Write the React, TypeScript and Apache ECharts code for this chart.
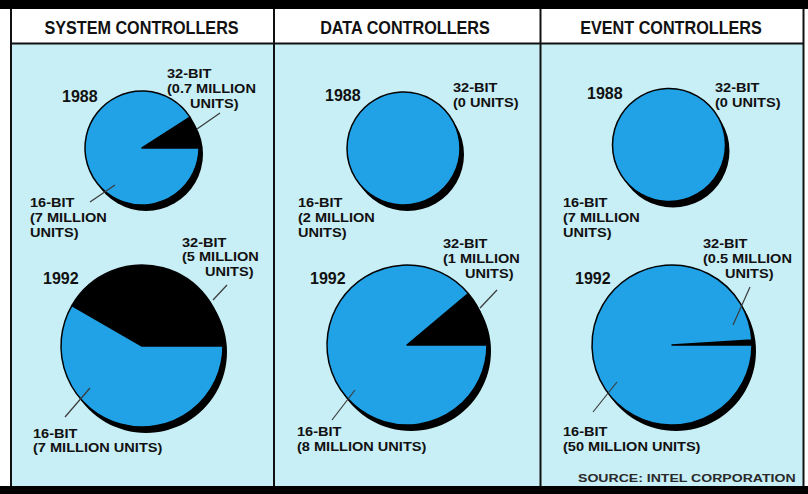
import React, { useEffect, useRef } from "react";
import * as echarts from "echarts";

// ---------- data ----------
const PANEL_TITLES = ["SYSTEM CONTROLLERS", "DATA CONTROLLERS", "EVENT CONTROLLERS"];
const YEARS = ["1988", "1992"];
const BIT_TYPES = ["32-BIT", "16-BIT"];
// million units
const UNITS_32_1988 = [0.7, 0, 0];
const UNITS_16_1988 = [7, 2, 7];
const UNITS_32_1992 = [5, 1, 0.5];
const UNITS_16_1992 = [7, 8, 50];
const SOURCE_TEXT = "SOURCE: INTEL CORPORATION";

// ---------- style ----------
const BLUE = "#22a2e6";
const CYAN = "#c8eef6";
const INK = "#111111";
const FONT = "'Liberation Sans', Arial, Helvetica, sans-serif";
const LABEL_SIZE = 13;
const LABEL_SCALE = 1.12;

// ---------- layout (positions only) ----------
type PieBox = [number, number, number];
type Lead = [number, number, number, number];
interface PanelLayout {
  titleX: number;
  pie: [PieBox, PieBox];
  year: [[number, number], [number, number]];
  l32: { x: number; y: number; x3: number; pitch: number }[];
  l16: { x: number; y: number; pitch: number }[];
  lead32: (Lead | null)[];
  lead16: (Lead | null)[];
}

const LAYOUT: PanelLayout[] = [
  {
    titleX: 141.5,
    pie: [[142, 148, 57], [142, 346, 81]],
    year: [[62, 96], [43, 278]],
    l32: [{ x: 167, y: 74, x3: 190, pitch: 15 }, { x: 182, y: 242.5, x3: 205, pitch: 14.7 }],
    l16: [{ x: 30, y: 202.5, pitch: 15 }, { x: 33, y: 433.5, pitch: 14.6 }],
    lead32: [[197, 129, 220, 113], [213, 300, 227, 285]],
    lead16: [[90, 202, 115, 185], [65, 417, 90, 388]],
  },
  {
    titleX: 405,
    pie: [[403.5, 148.5, 56.5], [407, 345, 80]],
    year: [[325, 95], [310, 278]],
    l32: [{ x: 453, y: 87.5, x3: 453, pitch: 15 }, { x: 443, y: 244, x3: 465, pitch: 14.7 }],
    l16: [{ x: 298, y: 202.5, pitch: 15 }, { x: 297, y: 432, pitch: 14.6 }],
    lead32: [null, [480, 308, 497, 290]],
    lead16: [null, [332, 420, 355, 390]],
  },
  {
    titleX: 671,
    pie: [[669, 145, 56.5], [672, 345, 80]],
    year: [[587, 93], [575, 278]],
    l32: [{ x: 715, y: 87.5, x3: 715, pitch: 15 }, { x: 703, y: 244, x3: 725, pitch: 14.7 }],
    l16: [{ x: 563, y: 202.5, pitch: 15 }, { x: 563, y: 432, pitch: 14.6 }],
    lead32: [null, [733, 325, 750, 287]],
    lead16: [null, [593, 412, 617, 382]],
  },
];

const SHADOW_DX = 4;
const SHADOW_DY = 6;

function unitsText(v: number): string {
  return v === 0 ? "(0 UNITS)" : `(${v} MILLION UNITS)`;
}
function splitUnits(t: string, wrap: boolean): string[] {
  if (!wrap || t.indexOf("MILLION") < 0) return [t];
  const i = t.indexOf(" UNITS)");
  return [t.slice(0, i), t.slice(i + 1)];
}

function txt(text: string, x: number, y: number, size: number, opts: any = {}) {
  const align = opts.align || "left";
  return {
    type: "text",
    x,
    y,
    z: 20,
    scaleX: opts.scaleX || 1,
    silent: true,
    style: {
      text,
      x: 0,
      y: 0,
      fill: opts.fill || INK,
      fontSize: size,
      fontWeight: opts.weight || "bold",
      fontFamily: FONT,
      align,
      textAlign: align,
      verticalAlign: "middle",
      textVerticalAlign: "middle",
    },
  };
}

function lead(l: Lead) {
  return {
    type: "line",
    z: 20,
    silent: true,
    shape: { x1: l[0], y1: l[1], x2: l[2], y2: l[3] },
    style: { stroke: "#3a3a3a", lineWidth: 1.2 },
  };
}

function buildOption() {
  const series: any[] = [];
  const graphics: any[] = [];

  // frame
  graphics.push({ type: "rect", z: -5, silent: true, shape: { x: 0, y: 0, width: 808, height: 494 }, style: { fill: "#ffffff" } });
  graphics.push({ type: "rect", z: -4, silent: true, shape: { x: 10, y: 44, width: 793, height: 442 }, style: { fill: CYAN } });
  graphics.push({ type: "rect", z: -3, silent: true, shape: { x: 0, y: 0, width: 808, height: 9 }, style: { fill: "#000" } });
  graphics.push({ type: "rect", z: -3, silent: true, shape: { x: 0, y: 486, width: 808, height: 8 }, style: { fill: "#000" } });
  graphics.push({ type: "line", z: -3, silent: true, shape: { x1: 10, y1: 43.5, x2: 804, y2: 43.5 }, style: { stroke: "#111", lineWidth: 2 } });
  [11, 274, 540.5, 803.5].forEach((x) => {
    graphics.push({ type: "line", z: -3, silent: true, shape: { x1: x, y1: 9, x2: x, y2: 486 }, style: { stroke: "#111", lineWidth: 2 } });
  });

  PANEL_TITLES.forEach((title, p) => {
    const L = LAYOUT[p];
    graphics.push(txt(title, L.titleX, 28.5, 18, { align: "center", scaleX: 0.9 }));

    const v32 = [UNITS_32_1988[p], UNITS_32_1992[p]];
    const v16 = [UNITS_16_1988[p], UNITS_16_1992[p]];

    YEARS.forEach((year, k) => {
      const [cx, cy, r] = L.pie[k];
      // drop shadow disc behind the pie (decoration)
      graphics.push({
        type: "circle",
        z: -2,
        silent: true,
        shape: { cx: cx + SHADOW_DX, cy: cy + SHADOW_DY, r },
        style: { fill: "#000" },
      });
      series.push({
        type: "pie",
        name: `${title} ${year}`,
        silent: true,
        animation: false,
        z: 3,
        center: [cx, cy],
        radius: [0, r],
        startAngle: 0,
        clockwise: false,
        label: { show: false },
        labelLine: { show: false },
        itemStyle: { borderColor: "#000", borderWidth: 1.5 },
        data: [
          { name: BIT_TYPES[0], value: v32[k], itemStyle: { color: "#000", borderWidth: v32[k] === 0 ? 0 : 1.5 } },
          { name: BIT_TYPES[1], value: v16[k], itemStyle: { color: BLUE } },
        ],
      });

      graphics.push(txt(year, L.year[k][0], L.year[k][1], 16));

      // 32-bit label
      const a = L.l32[k];
      const lines32 = [BIT_TYPES[0], ...splitUnits(unitsText(v32[k]), true)];
      lines32.forEach((s, i) => {
        graphics.push(txt(s, i === 2 ? a.x3 : a.x, a.y + i * a.pitch, LABEL_SIZE, { scaleX: LABEL_SCALE }));
      });
      // 16-bit label
      const b = L.l16[k];
      const lines16 = [BIT_TYPES[1], ...splitUnits(unitsText(v16[k]), k === 0)];
      lines16.forEach((s, i) => {
        graphics.push(txt(s, b.x, b.y + i * b.pitch, LABEL_SIZE, { scaleX: LABEL_SCALE }));
      });

      const l32 = L.lead32[k];
      if (l32) graphics.push(lead(l32));
      const l16 = L.lead16[k];
      if (l16) graphics.push(lead(l16));
    });
  });

  graphics.push(txt(SOURCE_TEXT, 578, 479, 11, { scaleX: 1.28, fill: "#2a2a2a" }));

  return {
    animation: false,
    backgroundColor: "#ffffff",
    graphic: { elements: graphics },
    series,
  };
}

export default function App() {
  const ref = useRef<HTMLDivElement>(null);
  useEffect(() => {
    document.body.style.margin = "0";
    const chart = echarts.init(ref.current!, null, { renderer: "svg" });
    chart.setOption(buildOption() as any);
    return () => chart.dispose();
  }, []);
  return <div ref={ref} style={{ width: 808, height: 494 }} />;
}
